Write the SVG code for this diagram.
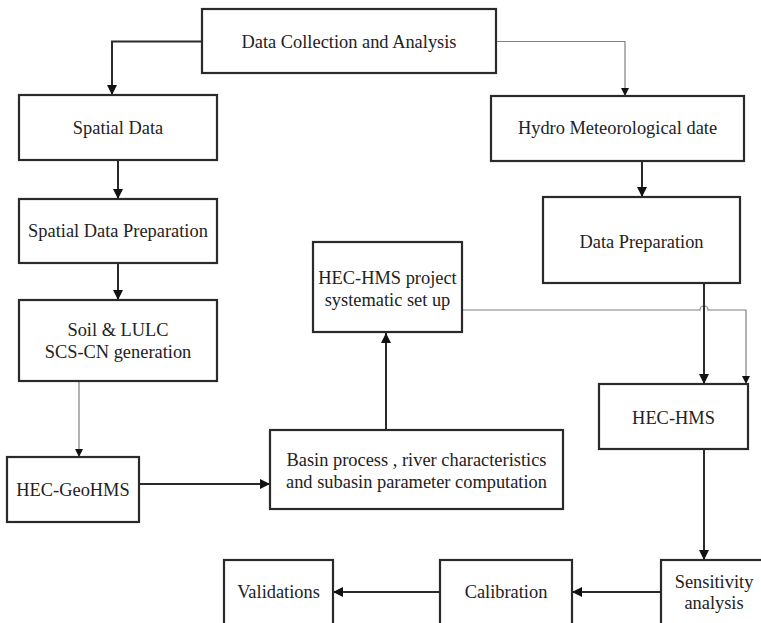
<svg xmlns="http://www.w3.org/2000/svg" width="761" height="623" viewBox="0 0 761 623">
<style>
.box{fill:#fff;stroke:#2a2a2a;stroke-width:2.2}
.t{font-family:"Liberation Serif","Times New Roman",Times,serif;font-size:18.4px;fill:#222;text-anchor:middle}
.thick{fill:none;stroke:#2a2a2a;stroke-width:2}
.thin{fill:none;stroke:#808080;stroke-width:1.2}
</style>
<defs>
<marker id="ah" markerUnits="userSpaceOnUse" markerWidth="10" markerHeight="10" refX="10" refY="5" orient="auto" viewBox="0 0 10 10">
<path d="M0,0 L10,5 L0,10 z" fill="#111"/>
</marker>
<marker id="ahs" markerUnits="userSpaceOnUse" markerWidth="8" markerHeight="8" refX="8" refY="4" orient="auto" viewBox="0 0 8 8">
<path d="M0,0 L8,4 L0,8 z" fill="#111"/>
</marker>
</defs>
<rect width="761" height="623" fill="#fff"/>
<g id="connectors">
<path class="thick" d="M202,41.5 H112 V95" marker-end="url(#ah)"/>
<path class="thin" d="M496,41.5 H625 V96" marker-end="url(#ahs)"/>
<path class="thick" d="M118,160 V199" marker-end="url(#ah)"/>
<path class="thick" d="M118,263 V300" marker-end="url(#ah)"/>
<path class="thin" d="M79,381 V457" marker-end="url(#ahs)"/>
<path class="thick" d="M139,484 H270" marker-end="url(#ah)"/>
<path class="thick" d="M386,430 V333" marker-end="url(#ah)"/>
<path class="thin" d="M462,310 H700 A4,4 0 0 1 708,310 H746 V384" marker-end="url(#ahs)"/>
<path class="thick" d="M642,161 V197" marker-end="url(#ah)"/>
<path class="thick" d="M704,283 V384" marker-end="url(#ah)"/>
<path class="thick" d="M704,449 V560" marker-end="url(#ah)"/>
<path class="thick" d="M661,592 H572" marker-end="url(#ah)"/>
<path class="thick" d="M440,592 H333" marker-end="url(#ah)"/>
</g>
<g id="data-collection">
<rect class="box" x="202" y="9" width="294" height="64"/>
<text class="t" x="349" y="48">Data Collection and Analysis</text>
</g>
<g id="spatial-data">
<rect class="box" x="19" y="95" width="198" height="65"/>
<text class="t" x="118" y="134">Spatial Data</text>
</g>
<g id="spatial-data-preparation">
<rect class="box" x="19" y="199" width="198" height="64"/>
<text class="t" x="118" y="237">Spatial Data Preparation</text>
</g>
<g id="soil-lulc">
<rect class="box" x="19" y="300" width="198" height="81"/>
<text class="t" x="118" y="336">Soil &amp; LULC</text>
<text class="t" x="118" y="358">SCS-CN generation</text>
</g>
<g id="hec-geohms">
<rect class="box" x="7" y="457" width="132" height="65"/>
<text class="t" x="73" y="496">HEC-GeoHMS</text>
</g>
<g id="basin-process">
<rect class="box" x="270" y="430" width="293" height="79"/>
<text class="t" x="416.5" y="466">Basin process , river characteristics</text>
<text class="t" x="416.5" y="488">and subasin parameter computation</text>
</g>
<g id="hec-hms-project">
<rect class="box" x="313" y="242" width="149" height="90"/>
<text class="t" x="387.5" y="284">HEC-HMS project</text>
<text class="t" x="387.5" y="306">systematic set up</text>
</g>
<g id="hydro-meteorological">
<rect class="box" x="491" y="96" width="253" height="65"/>
<text class="t" x="617.5" y="134">Hydro Meteorological date</text>
</g>
<g id="data-preparation">
<rect class="box" x="543" y="197" width="197" height="86"/>
<text class="t" x="641.5" y="248">Data Preparation</text>
</g>
<g id="hec-hms">
<rect class="box" x="599" y="384" width="149" height="65"/>
<text class="t" x="673.5" y="424">HEC-HMS</text>
</g>
<g id="sensitivity">
<rect class="box" x="661" y="560" width="110" height="80"/>
<text class="t" x="714" y="588">Sensitivity</text>
<text class="t" x="714" y="609">analysis</text>
</g>
<g id="calibration">
<rect class="box" x="440" y="560" width="132" height="80"/>
<text class="t" x="506" y="598">Calibration</text>
</g>
<g id="validations">
<rect class="box" x="224" y="560" width="109" height="80"/>
<text class="t" x="278.5" y="598">Validations</text>
</g>
</svg>
